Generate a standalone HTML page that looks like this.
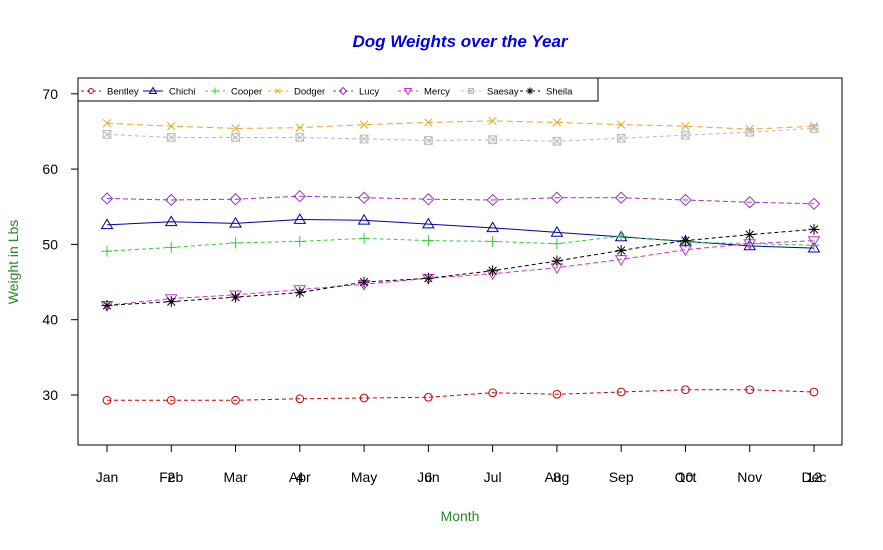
<!DOCTYPE html>
<html><head><meta charset="utf-8"><style>
body{margin:0;background:#fff;}
svg text{font-family:"Liberation Sans",Arial,sans-serif;}
</style></head><body>
<svg id="chart" width="883" height="545" viewBox="0 0 883 545" xmlns="http://www.w3.org/2000/svg">
<rect width="883" height="545" fill="#fff"/>
<text x="460" y="47" text-anchor="middle" font-size="17" font-weight="bold" font-style="italic" fill="#0000ee">Dog Weights over the Year</text>
<text x="460" y="521" text-anchor="middle" font-size="14" fill="#228b22">Month</text>
<text transform="translate(18,262) rotate(-90)" text-anchor="middle" font-size="14" fill="#228b22">Weight in Lbs</text>
<rect x="78" y="78" width="764" height="367" fill="none" stroke="#000" stroke-width="1"/>
<g id="axes"></g>
<g id="series"></g>
<g id="legend"></g>
</svg>
<script>
const months=["Jan","Feb","Mar","Apr","May","Jun","Jul","Aug","Sep","Oct","Nov","Dec"];
const monthNums=[2,4,6,8,10,12];
const yTicks=[30,40,50,60,70];
const dogNames=["Bentley","Chichi","Cooper","Dodger","Lucy","Mercy","Saesay","Sheila"];
const bentley=[29.3,29.3,29.3,29.5,29.6,29.7,30.3,30.1,30.4,30.7,30.7,30.4];
const chichi=[52.6,53.0,52.8,53.3,53.2,52.7,52.2,51.6,51.0,50.4,49.8,49.5];
const cooper=[49.1,49.6,50.2,50.4,50.8,50.5,50.4,50.1,51.1,50.3,50.1,49.9];
const dodger=[66.1,65.7,65.4,65.5,65.9,66.2,66.4,66.2,65.9,65.7,65.3,65.7];
const lucy=[56.1,55.9,56.0,56.4,56.2,56.0,55.9,56.2,56.2,55.9,55.6,55.4];
const mercy=[41.9,42.8,43.3,44.0,44.7,45.5,46.1,46.9,48.0,49.3,50.1,50.5];
const saesay=[64.6,64.2,64.2,64.2,64.0,63.8,63.9,63.7,64.1,64.5,64.9,65.4];
const sheila=[41.9,42.4,43.0,43.6,45.0,45.5,46.5,47.8,49.2,50.5,51.3,52.0];

const NS="http://www.w3.org/2000/svg";
function xs(i){return 107+i*(814-107)/11;}
function ys(v){return 395-(v-30)*7.53;}
function mk(tag,attrs,parent){const e=document.createElementNS(NS,tag);for(const k in attrs)e.setAttribute(k,attrs[k]);parent.appendChild(e);return e;}
const axes=document.getElementById('axes');
months.forEach((m,i)=>{
  const t=mk('line',{x1:xs(i),x2:xs(i),y1:445,y2:452,stroke:'#000'},axes);
  
  
  const l=mk('text',{x:xs(i),y:482,'text-anchor':'middle','font-size':14,fill:'#000'},axes);
  l.textContent=m;
  
  
});
monthNums.forEach(n=>{
  const l=mk('text',{x:xs(n-1),y:482,'text-anchor':'middle','font-size':14,fill:'#000'},axes);
  l.textContent=n;
  
  
});
yTicks.forEach(v=>{
  const t=mk('line',{x1:71,x2:78,y1:ys(v),y2:ys(v),stroke:'#000'},axes);
  
  
  const l=mk('text',{x:58,y:ys(v)+5,'text-anchor':'end','font-size':14,fill:'#000'},axes);
  l.textContent=v;
  
  
});
const data=[bentley,chichi,cooper,dodger,lucy,mercy,saesay,sheila];
const colors=["#cd0000","#0000a8","#33cc33","#e6a820","#9932cc","#cc33cc","#bbbbbb","#000000"];
const shapes=["circle","triangle","plus","x","diamond","tridown","boxx","star"];
const dashes=["4,3","none","4,3","6,4","5,3","5,3","4,3","4,3"];
function symbol(shape,x,y,c,s,p){
  const g=mk('g',{stroke:c,fill:'none','stroke-width':1},p);
  if(shape==='circle')mk('circle',{cx:x,cy:y,r:s*0.7},g);
  if(shape==='triangle')mk('polygon',{points:`${x},${y-s} ${x-s},${y+s*0.7} ${x+s},${y+s*0.7}`},g);
  if(shape==='tridown')mk('polygon',{points:`${x},${y+s} ${x-s},${y-s*0.7} ${x+s},${y-s*0.7}`},g);
  if(shape==='plus'){mk('line',{x1:x-s,x2:x+s,y1:y,y2:y},g);mk('line',{x1:x,x2:x,y1:y-s,y2:y+s},g);}
  if(shape==='x'){mk('line',{x1:x-s*.7,x2:x+s*.7,y1:y-s*.7,y2:y+s*.7},g);mk('line',{x1:x-s*.7,x2:x+s*.7,y1:y+s*.7,y2:y-s*.7},g);}
  if(shape==='diamond')mk('polygon',{points:`${x},${y-s} ${x+s},${y} ${x},${y+s} ${x-s},${y}`},g);
  if(shape==='boxx'){const a=s*.7;mk('rect',{x:x-a,y:y-a,width:2*a,height:2*a},g);mk('line',{x1:x-a,x2:x+a,y1:y-a,y2:y+a},g);mk('line',{x1:x-a,x2:x+a,y1:y+a,y2:y-a},g);}
  if(shape==='star'){mk('line',{x1:x-s,x2:x+s,y1:y,y2:y},g);mk('line',{x1:x,x2:x,y1:y-s,y2:y+s},g);mk('line',{x1:x-s*.7,x2:x+s*.7,y1:y-s*.7,y2:y+s*.7},g);mk('line',{x1:x-s*.7,x2:x+s*.7,y1:y+s*.7,y2:y-s*.7},g);}
  return g;
}
const sg=document.getElementById('series');
data.forEach((arr,k)=>{
  const pts=arr.map((v,i)=>xs(i)+','+ys(v)).join(' ');
  const pl=mk('polyline',{points:pts,fill:'none',stroke:colors[k],'stroke-width':1,'stroke-dasharray':dashes[k]},sg);
  
  
  arr.forEach((v,i)=>{
    const s=symbol(shapes[k],xs(i),ys(v),colors[k],5.5,sg);
    
    
  });
});
const lg=document.getElementById('legend');
const lb=mk('rect',{x:78,y:78,width:520,height:23,fill:'#fff',stroke:'#000'},lg);


const symX=[91,153,215,278,343,408,471,530];
dogNames.forEach((n,k)=>{
  const g=mk('g',{},lg);
  
  
  mk('line',{x1:symX[k]-10,x2:symX[k]+10,y1:91,y2:91,stroke:colors[k],'stroke-dasharray':k===1?'none':'3,3'},g);
  symbol(shapes[k],symX[k],91,colors[k],3.5,g);
  const t=mk('text',{x:symX[k]+16,y:94.5,'font-size':9.5,fill:'#000'},g);
  t.textContent=n;
});
</script>
</body></html>
